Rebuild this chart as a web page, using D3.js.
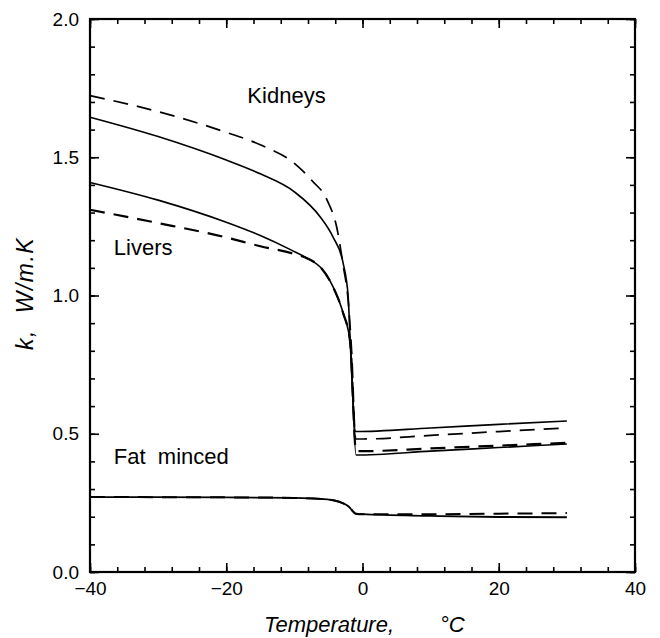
<!DOCTYPE html>
<html>
<head>
<meta charset="utf-8">
<script src="https://cdn.jsdelivr.net/npm/d3@7"></script>
<style>
  body { margin: 0; background: #fff; }
  svg text { font-family: "Liberation Sans", Arial, sans-serif; fill: #000; }
</style>
</head>
<body>
<svg id="chart" width="660" height="638"></svg>
<script>
// temperatures (degC) and conductivities (W/m.K)
const kidneySolidT = [-40, -30, -20, -15, -10, -6.2, -4.3, -2.85, -2.1, -1.8, -1.0, 10, 20, 30]
const kidneySolidK = [1.645, 1.575, 1.49, 1.44, 1.375, 1.284, 1.21, 1.118, 0.995, 0.83, 0.508, 0.521, 0.534, 0.546]

const kidneyDashT = [-40, -30, -20, -15, -10, -7.4, -5.2, -3.7, -2.85, -2.1, -1.6, -1.0, 0, 10, 20, 30]
const kidneyDashK = [1.723, 1.665, 1.59, 1.545, 1.478, 1.415, 1.345, 1.237, 1.11, 0.98, 0.8, 0.481, 0.481, 0.494, 0.508, 0.521]

const liverSolidT = [-40, -30, -20, -15, -10.5, -8, -6.2, -4.3, -2.85, -1.8, -0.95, 10, 20, 30]
const liverSolidK = [1.409, 1.345, 1.265, 1.217, 1.165, 1.133, 1.103, 1.03, 0.937, 0.83, 0.423, 0.437, 0.45, 0.463]

const liverDashT = [-40, -30, -20, -15, -10, -8, -6.2, -4.3, -2.85, -1.8, -0.95, 0, 10, 20, 30]
const liverDashK = [1.31, 1.262, 1.21, 1.178, 1.15, 1.133, 1.103, 1.03, 0.937, 0.83, 0.437, 0.437, 0.447, 0.457, 0.467]

const fatSolidT = [-40, -20, -10, -6, -4, -3, -2, -1.5, -1, 0, 10, 20, 30]
const fatSolidK = [0.271, 0.27, 0.268, 0.264, 0.258, 0.25, 0.236, 0.222, 0.211, 0.209, 0.203, 0.199, 0.198]

const fatDashT = [-40, -20, -10, -6, -4, -3, -2, -1.5, -1, 0, 10, 20, 30]
const fatDashK = [0.271, 0.27, 0.268, 0.264, 0.258, 0.25, 0.236, 0.222, 0.211, 0.209, 0.209, 0.211, 0.213]

const xMajor = [-40, -20, 0, 20, 40]
const yMajor = [0, 0.5, 1.0, 1.5, 2.0]

const labels = [
  {text: "Kidneys", t: -16.9, k: 1.698},
  {text: "Livers", t: -36.5, k: 1.148},
  {text: "Fat  minced", t: -36.5, k: 0.392}
]

const svg = d3.select("#chart")
const plotLeft = 90, plotRight = 635, plotTop = 19, plotBottom = 572

const x = d3.scaleLinear().domain([-40, 40]).range([plotLeft, plotRight])
const y = d3.scaleLinear().domain([0, 2]).range([plotBottom, plotTop])

// ticks: every 4 degC and 0.1 k, longer at labelled ones
const xMinor = d3.range(-40, 40.01, 4)
const yMinor = d3.range(0, 20.01, 1).map(d => d / 10)

function addAxis(axis, transform, showLabels){
    const g = svg.append("g").attr("transform", transform).call(axis)
    g.select(".domain").remove()
    g.selectAll("line").attr("stroke", "#000").attr("stroke-width", 1.6)
    if(!showLabels) g.selectAll("text").remove()
    else g.selectAll("text").attr("font-size", 19).attr("font-family", "Liberation Sans, Arial, sans-serif")
    return g
}

addAxis(d3.axisBottom(x).tickValues(xMinor).tickSizeInner(-5).tickSizeOuter(0).tickFormat(""), `translate(0,${plotBottom})`, false)
addAxis(d3.axisBottom(x).tickValues(xMajor).tickSizeInner(-9).tickSizeOuter(0).tickPadding(10).tickFormat(d3.format("d")), `translate(0,${plotBottom})`, true)
addAxis(d3.axisTop(x).tickValues(xMinor).tickSizeInner(-5).tickSizeOuter(0).tickFormat(""), `translate(0,${plotTop})`, false)
addAxis(d3.axisTop(x).tickValues(xMajor).tickSizeInner(-9).tickSizeOuter(0).tickFormat(""), `translate(0,${plotTop})`, false)

addAxis(d3.axisLeft(y).tickValues(yMinor).tickSizeInner(-5).tickSizeOuter(0).tickFormat(""), `translate(${plotLeft},0)`, false)
addAxis(d3.axisLeft(y).tickValues(yMajor).tickSizeInner(-9).tickSizeOuter(0).tickPadding(11).tickFormat(d3.format(".1f")), `translate(${plotLeft},0)`, true)
addAxis(d3.axisRight(y).tickValues(yMinor).tickSizeInner(-5).tickSizeOuter(0).tickFormat(""), `translate(${plotRight},0)`, false)
addAxis(d3.axisRight(y).tickValues(yMajor).tickSizeInner(-9).tickSizeOuter(0).tickFormat(""), `translate(${plotRight},0)`, false)

svg.append("rect")
    .attr("x", plotLeft).attr("y", plotTop)
    .attr("width", plotRight - plotLeft).attr("height", plotBottom - plotTop)
    .attr("fill", "none").attr("stroke", "#000").attr("stroke-width", 2.2)

const line = d3.line()
    .x(d => x(d[0]))
    .y(d => y(d[1]))
    .curve(d3.curveMonotoneX)

const series = [
    {t: kidneyDashT, k: kidneyDashK, dash: "15,9", w: 1.7},
    {t: liverDashT, k: liverDashK, dash: "15,9", w: 2.2},
    {t: fatDashT, k: fatDashK, dash: "15,9", w: 2.0},
    {t: kidneySolidT, k: kidneySolidK, dash: null, w: 1.6},
    {t: liverSolidT, k: liverSolidK, dash: null, w: 1.6},
    {t: fatSolidT, k: fatSolidK, dash: null, w: 1.8}
]

series.forEach(s => {
    svg.append("path")
        .datum(d3.zip(s.t, s.k))
        .attr("d", line)
        .attr("fill", "none")
        .attr("stroke", "#000")
        .attr("stroke-width", s.w)
        .attr("stroke-dasharray", s.dash)
        .attr("stroke-linejoin", "round")
})

labels.forEach(l => {
    svg.append("text")
        .attr("x", x(l.t))
        .attr("y", y(l.k))
        .attr("font-size", 22)
        .attr("font-family", "DejaVu Sans, sans-serif")
        .style("white-space", "pre")
        .text(l.text)
})

svg.append("text")
    .attr("x", 264)
    .attr("y", 632)
    .attr("font-size", 22)
    .attr("font-family", "DejaVu Sans, sans-serif")
    .attr("font-style", "italic")
    .text("Temperature,")

svg.append("text")
    .attr("x", 440)
    .attr("y", 632)
    .attr("font-size", 22)
    .attr("font-family", "DejaVu Sans, sans-serif")
    .attr("font-style", "italic")
    .text("\u00b0C")

svg.append("text")
    .attr("transform", "translate(33,350) rotate(-90)")
    .attr("font-size", 23)
    .attr("font-family", "DejaVu Sans, sans-serif")
    .attr("font-style", "italic")
    .attr("letter-spacing", 1.5)
    .style("white-space", "pre")
    .text("k,  W/m.K")
</script>
</body>
</html>
